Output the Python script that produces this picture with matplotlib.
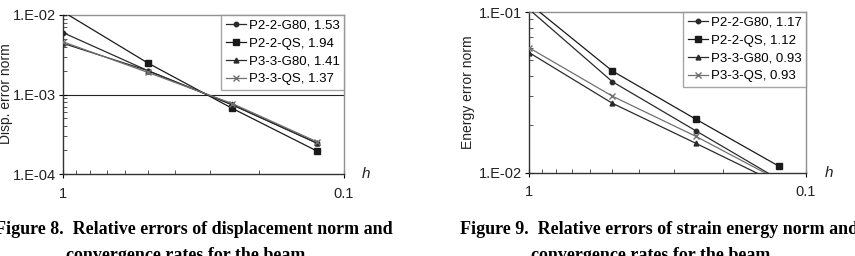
import matplotlib
matplotlib.use("Agg")
import matplotlib.pyplot as plt
from matplotlib.ticker import FixedLocator, FixedFormatter, NullFormatter
import numpy as np

h = [1.0, 0.5, 0.25, 0.125]

series_names = ["P2-2-G80", "P2-2-QS", "P3-3-G80", "P3-3-QS"]
disp_rates = ["1.53", "1.94", "1.41", "1.37"]
energy_rates = ["1.17", "1.12", "0.93", "0.93"]

disp_p22_g80 = [6.0e-3, 2.0e-3, 7.4e-4, 2.45e-4]
disp_p22_qs = [1.1e-2, 2.5e-3, 6.7e-4, 1.95e-4]
disp_p33_g80 = [4.4e-3, 2.0e-3, 7.5e-4, 2.45e-4]
disp_p33_qs = [4.6e-3, 1.9e-3, 7.7e-4, 2.55e-4]

en_p22_g80 = [0.104, 0.0369, 0.0183, 0.0091]
en_p22_qs = [0.113, 0.043, 0.0216, 0.011]
en_p33_g80 = [0.056, 0.0271, 0.0153, 0.00855]
en_p33_qs = [0.060, 0.030, 0.0169, 0.0090]

markers = ["o", "s", "^", "x"]
msizes = [3.2, 4.5, 3.5, 5]
colors = ["#2a2a2a", "#1a1a1a", "#2a2a2a", "#707070"]

plt.rcParams['font.family'] = ['Liberation Sans', 'DejaVu Sans']

W, H = 855, 256
fig = plt.figure(figsize=(W / 100, H / 100), dpi=100)


def px_axes(x0, x1, y0, y1):
    return fig.add_axes([x0 / W, 1 - y1 / H, (x1 - x0) / W, (y1 - y0) / H])


def style_axes(ax, ymin, ymax, ylabels):
    ax.set_xscale("log")
    ax.set_yscale("log")
    ax.set_xlim(1, 0.1)
    ax.set_ylim(ymin, ymax)
    majors = [10.0 ** e for e in range(int(round(np.log10(ymin))), int(round(np.log10(ymax))) + 1)]
    ax.yaxis.set_major_locator(FixedLocator(majors))
    ax.yaxis.set_major_formatter(FixedFormatter(ylabels))
    minors = []
    for m in majors[:-1]:
        minors += [m * k for k in range(2, 10)]
    ax.yaxis.set_minor_locator(FixedLocator(minors))
    ax.yaxis.set_minor_formatter(NullFormatter())
    ax.xaxis.set_major_locator(FixedLocator([1.0, 0.1]))
    ax.xaxis.set_major_formatter(FixedFormatter(["1", "0.1"]))
    ax.xaxis.set_minor_locator(FixedLocator([0.1 * k for k in range(2, 10)]))
    ax.xaxis.set_minor_formatter(NullFormatter())
    ax.tick_params(axis="both", which="major", direction="inout", length=6, width=0.8,
                   labelsize=10.5, colors="black", labelcolor="#222222")
    ax.tick_params(axis="y", which="major", pad=2)
    ax.tick_params(axis="x", which="major", pad=6)
    ax.tick_params(axis="both", which="minor", direction="in", length=3, width=0.7, color="#555555")
    for s in ["top", "right"]:
        ax.spines[s].set_color("#909090")
        ax.spines[s].set_linewidth(1.0)
    for s in ["left", "bottom"]:
        ax.spines[s].set_color("#333333")
        ax.spines[s].set_linewidth(1.0)
    for m in majors[1:-1]:
        ax.axhline(m, color="#222222", lw=0.8, zorder=1)


def draw(ax, data, rates):
    for i, ys in enumerate(data):
        ax.plot(h, ys, marker=markers[i], ms=msizes[i], color=colors[i], lw=0.9,
                mew=1.0, label=f"{series_names[i]}, {rates[i]}", zorder=3)
    leg = ax.legend(loc="upper right", fontsize=9.5, frameon=True, fancybox=False,
                    borderaxespad=0.0, handlelength=1.5, handletextpad=0.2,
                    labelspacing=0.42, borderpad=0.35)
    leg.get_frame().set_edgecolor("#909090")
    leg.get_frame().set_linewidth(1.0)


ax1 = px_axes(63, 344, 15, 174)
style_axes(ax1, 1e-4, 1e-2, ["1.E-04", "1.E-03", "1.E-02"])
draw(ax1, [disp_p22_g80, disp_p22_qs, disp_p33_g80, disp_p33_qs], disp_rates)

ax2 = px_axes(529, 806, 12, 173)
style_axes(ax2, 1e-2, 1e-1, ["1.E-02", "1.E-01"])
draw(ax2, [en_p22_g80, en_p22_qs, en_p33_g80, en_p33_qs], energy_rates)

fig.text(6 / W, 1 - 94 / H, "Disp. error norm", rotation=90, ha="center", va="center",
         fontsize=10, color="#222222")
fig.text(468 / W, 1 - 92 / H, "Energy error norm", rotation=90, ha="center", va="center",
         fontsize=10, color="#222222")
fig.text(366 / W, 1 - 174 / H, "h", style="italic", ha="center", va="center", fontsize=11,
         color="#222222")
fig.text(829 / W, 1 - 173 / H, "h", style="italic", ha="center", va="center", fontsize=11,
         color="#222222")

cap = dict(family=["Liberation Serif", "DejaVu Serif"], weight="bold", fontsize=13, va="center")
fig.text(393 / W, 1 - 230 / H, "Figure 8.  Relative errors of displacement norm and", ha="right", **cap)
fig.text(186 / W, 1 - 256 / H, "convergence rates for the beam", ha="center", **cap)
fig.text(460 / W, 1 - 230 / H, "Figure 9.  Relative errors of strain energy norm and", ha="left", **cap)
fig.text(651 / W, 1 - 256 / H, "convergence rates for the beam", ha="center", **cap)

fig.savefig("out.png", dpi=100)
